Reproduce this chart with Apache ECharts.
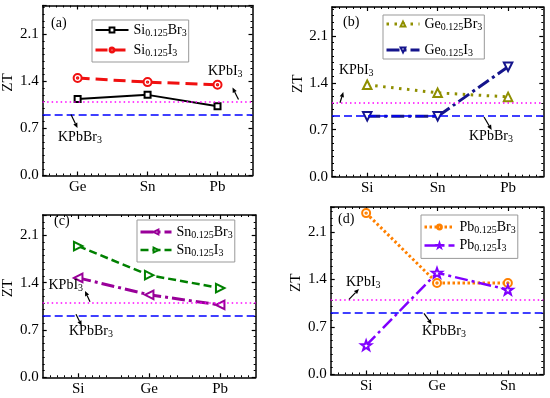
<!DOCTYPE html>
<html><head><meta charset="utf-8">
<script src="https://cdn.jsdelivr.net/npm/echarts@6/dist/echarts.min.js"></script>
<style>html,body{margin:0;padding:0;background:#fff}#c{width:550px;height:398px}</style>
</head><body><div id="c"></div>
<script>
// ---------- data ----------
const catsA = ['Ge', 'Sn', 'Pb'];
const siBr3 = [1.14, 1.20, 1.03];
const siI3 = [1.45, 1.39, 1.35];
const catsB = ['Si', 'Sn', 'Pb'];
const geBr3 = [1.37, 1.25, 1.19];
const geI3 = [0.90, 0.90, 1.64];
const catsC = ['Si', 'Ge', 'Pb'];
const snBr3 = [1.47, 1.22, 1.07];
const snI3 = [1.94, 1.51, 1.32];
const catsD = ['Si', 'Ge', 'Sn'];
const pbBr3 = [2.38, 1.35, 1.35];
const pbI3 = [0.43, 1.50, 1.25];
const kpbI3 = 1.10;
const kpbBr3 = 0.91;
const yTickStep = 0.7;
const namesA = ['Si0.125Br3', 'Si0.125I3'];
const namesB = ['Ge0.125Br3', 'Ge0.125I3'];
const namesC = ['Sn0.125Br3', 'Sn0.125I3'];
const namesD = ['Pb0.125Br3', 'Pb0.125I3'];
const panelLabels = ['(a)', '(b)', '(c)', '(d)'];
const refNames = ['KPbI3', 'KPbBr3'];

// ---------- styling / layout ----------
const FONT = "'Liberation Serif','Times New Roman',serif";
const TARGET = 'emptyPath://M0,-10A10,10 0 1,1 0,10A10,10 0 1,1 0,-10ZM0,-1.8A1.8,1.8 0 1,1 0,1.8A1.8,1.8 0 1,1 0,-1.8Z';
const STAR = 'emptyPath://M0,-10L2.35,-3.24L9.51,-3.09L3.8,1.24L5.88,8.09L0,4L-5.88,8.09L-3.8,1.24L-9.51,-3.09L-2.35,-3.24Z';

const panels = [
  {cats: catsA, names: namesA, vals: [siBr3, siI3]},
  {cats: catsB, names: namesB, vals: [geBr3, geI3]},
  {cats: catsC, names: namesC, vals: [snBr3, snI3]},
  {cats: catsD, names: namesD, vals: [pbBr3, pbI3]}
];
const layout = [
  {grid: {left: 42, top: 5.5, width: 210.5, height: 170}, yMax: 2.53,
   legend: {left: 92, top: 20, padding: [3, 2, 4, 2], itemGap: 5, itemWidth: 33}, label: [51, 23]},
  {grid: {left: 332, top: 7, width: 211.3, height: 169.7}, yMax: 2.53,
   legend: {left: 383, top: 15, padding: [2, 2, 1, 2], itemGap: 11, itemWidth: 33}, label: [343, 22]},
  {grid: {left: 42.7, top: 215, width: 213, height: 162.3}, yMax: 2.4,
   legend: {left: 137, top: 220, padding: [5, 2, 4, 2], itemGap: 3, itemWidth: 31}, label: [54, 221]},
  {grid: {left: 330.7, top: 207, width: 212.6, height: 167.5}, yMax: 2.47,
   legend: {left: 421, top: 215, padding: [5, 2, 5, 2], itemGap: 3.4, itemWidth: 30}, label: [338, 219]}
];
const styles = [
  [{color: '#000000', type: 'solid', w: 2, symbol: 'emptyRect', size: 6, rot: 0},
   {color: '#f01010', type: [12, 6], w: 3, symbol: TARGET, size: 8, rot: 0}],
  [{color: '#8f8f00', type: [2.5, 5.5], w: 3, symbol: 'emptyTriangle', size: 8.5, rot: 0},
   {color: '#14148c', type: [13, 4, 3, 4], w: 3, symbol: 'emptyTriangle', size: 8.5, rot: 180}],
  [{color: '#990099', type: [13, 4, 3, 4], w: 3, symbol: 'emptyTriangle', size: 8.5, rot: 90},
   {color: '#008000', type: [8, 4], w: 2.5, symbol: 'emptyTriangle', size: 8.5, rot: -90}],
  [{color: '#ff8000', type: [2.5, 2.5], w: 3, symbol: TARGET, size: 8, rot: 0},
   {color: '#8000ff', type: [13, 4, 3, 4], w: 2.5, symbol: STAR, size: 10, rot: 0}]
];
// annotation layout (pixel positions of text labels and arrows)
const notes = [
  {i: 0, x: 208, y: 71, from: [238.5, 99.5], to: [232.5, 87.5]},
  {i: 1, x: 58, y: 137, from: [71, 114.5], to: [77.5, 128]},
  {i: 0, x: 339, y: 70, from: [340, 102.7], to: [343.3, 92]},
  {i: 1, x: 469, y: 136.7, from: [484, 117], to: [491.7, 130]},
  {i: 0, x: 48.5, y: 285.7, from: [90, 301.7], to: [85, 291]},
  {i: 1, x: 69, y: 331.7, from: [76, 314.3], to: [81.7, 325.7]},
  {i: 0, x: 346, y: 282.3, from: [349, 299.3], to: [359, 289]},
  {i: 1, x: 422, y: 331.7, from: [424, 313.3], to: [431.7, 324.3]}
];

const RICH = {
  n: {fontFamily: FONT, fontSize: 14, lineHeight: 16, color: '#000'},
  s: {fontFamily: FONT, fontSize: 10, lineHeight: 8, verticalAlign: 'bottom', color: '#000'}
};
function chem(name) {
  return name.split(/(\d[\d.]*)/).filter(p => p.length).map(p =>
    /^\d/.test(p) ? '{s|' + p + '}' : '{n|' + p + '}').join('');
}

const AX_LINE = {show: true, onZero: false, lineStyle: {color: '#000', width: 1.5}};
const TICK = {show: true, inside: true, length: 4, lineStyle: {color: '#000', width: 1.2}};
const MINOR = {show: true, length: 2, lineStyle: {color: '#000', width: 1}};

const option = {animation: false, grid: [], xAxis: [], yAxis: [], series: [], legend: [], graphic: []};

panels.forEach((p, g) => {
  const L = layout[g];
  option.grid.push(Object.assign({containLabel: false}, L.grid));
  ['bottom', 'top'].forEach(pos => {
    option.xAxis.push({
      gridIndex: g, type: 'category', data: p.cats, position: pos, boundaryGap: true,
      axisLine: AX_LINE, axisTick: Object.assign({alignWithLabel: true}, TICK),
      axisLabel: {show: pos === 'bottom', fontFamily: FONT, fontSize: 15, color: '#000', margin: 4},
      splitLine: {show: false}
    });
  });
  ['bottom', 'top'].forEach(pos => {
    option.xAxis.push({
      gridIndex: g, type: 'value', position: pos, min: 0.5, max: 3.5, interval: 0.5,
      axisLine: {show: false, onZero: false}, axisTick: {show: false, inside: true},
      axisLabel: {show: false}, splitLine: {show: false},
      minorTick: Object.assign({splitNumber: 5}, MINOR)
    });
  });
  ['left', 'right'].forEach(pos => {
    option.yAxis.push({
      gridIndex: g, type: 'value', position: pos, min: 0, max: L.yMax, interval: yTickStep,
      name: pos === 'left' ? 'ZT' : '', nameLocation: 'middle', nameGap: 24,
      nameTextStyle: {fontFamily: FONT, fontSize: 15, color: '#000', padding: [0, 0, 0, 16]},
      axisLine: AX_LINE, axisTick: TICK,
      minorTick: Object.assign({splitNumber: 7}, MINOR),
      axisLabel: {
        show: pos === 'left', fontFamily: FONT, fontSize: 15, color: '#000', margin: 4,
        showMaxLabel: false,
        formatter: v => Math.abs(v / yTickStep - Math.round(v / yTickStep)) < 1e-6 ? v.toFixed(1) : ''
      },
      splitLine: {show: false}
    });
  });
  p.names.forEach((nm, k) => {
    const st = styles[g][k];
    const s = {
      type: 'line', name: nm, xAxisIndex: 4 * g, yAxisIndex: 2 * g, data: p.vals[k],
      symbol: st.symbol, symbolSize: st.size, symbolRotate: st.rot, symbolKeepAspect: true,
      showAllSymbol: true, z: 3 + k,
      lineStyle: {color: st.color, width: st.w, type: st.type, cap: 'butt'},
      itemStyle: {color: st.color, borderWidth: 1.5}
    };
    if (k === 0) {
      s.markLine = {
        silent: true, symbol: 'none', label: {show: false}, animation: false,
        data: [
          {yAxis: kpbI3, lineStyle: {color: '#ff00ff', width: 1.5, type: [1.5, 3]}},
          {yAxis: kpbBr3, lineStyle: {color: '#0000ff', width: 1.5, type: [8, 4]}}
        ]
      };
    }
    option.series.push(s);
  });
  option.legend.push(Object.assign({
    orient: 'vertical', itemHeight: 6, borderColor: '#999', borderWidth: 1, borderRadius: 0,
    backgroundColor: '#fff', selectedMode: false, data: p.names, formatter: chem,
    textStyle: {fontFamily: FONT, fontSize: 14, color: '#000', rich: RICH},
    lineStyle: {width: 'inherit'}, itemStyle: {borderWidth: 'inherit'}
  }, L.legend));
  option.graphic.push({
    type: 'text', x: L.label[0], y: L.label[1],
    style: {text: panelLabels[g], font: '14px ' + FONT, fill: '#000', verticalAlign: 'middle'}
  });
});

notes.forEach(n => {
  option.graphic.push({
    type: 'text', x: n.x, y: n.y, z: 10,
    style: {text: chem(refNames[n.i]), rich: RICH, verticalAlign: 'middle', fill: '#000'}
  });
  const dx = n.to[0] - n.from[0], dy = n.to[1] - n.from[1];
  const len = Math.hypot(dx, dy), ux = dx / len, uy = dy / len;
  const hl = 5, hw = 2.2;
  const bx = n.to[0] - ux * hl, by = n.to[1] - uy * hl;
  option.graphic.push({
    type: 'line', z: 10, shape: {x1: n.from[0], y1: n.from[1], x2: bx, y2: by},
    style: {stroke: '#000', lineWidth: 1.2}
  });
  option.graphic.push({
    type: 'polygon', z: 10,
    shape: {points: [[n.to[0], n.to[1]], [bx - uy * hw, by + ux * hw], [bx + uy * hw, by - ux * hw]]},
    style: {fill: '#000'}
  });
});

const chart = echarts.init(document.getElementById('c'), null, {renderer: 'canvas'});
chart.setOption(option);
</script>
</body></html>
